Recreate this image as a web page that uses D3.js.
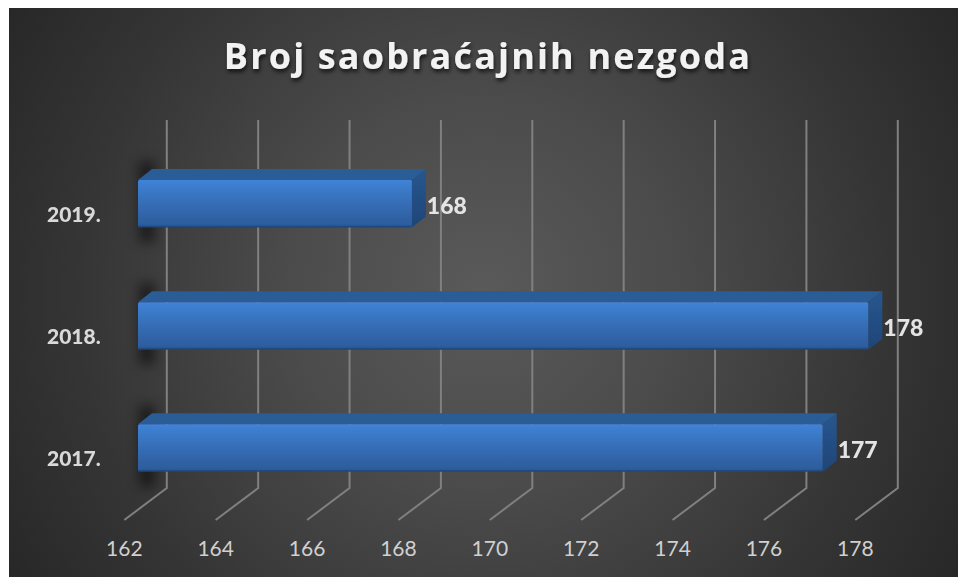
<!DOCTYPE html>
<html><head><meta charset="utf-8">
<script src="https://cdn.jsdelivr.net/npm/d3@7"></script>
<style>html,body{margin:0;padding:0;background:#fff;overflow:hidden}svg{display:block}</style>
</head><body><svg id="c" width="958" height="577"></svg>
<script>
const categories = ["2017.", "2018.", "2019."];
const values = [177, 178, 168];
const tickValues = [162,164,166,168,170,172,174,176,178];
const titleText = "Broj saobraćajnih nezgoda";

const W=958,H=577;
const svg=d3.select("#c");
const defs=svg.append("defs");
const bg=defs.append("radialGradient").attr("id","bg")
  .attr("gradientUnits","userSpaceOnUse").attr("cx",483).attr("cy",292).attr("r",560);
[[0,"#5a5a5a"],[0.35,"#4b4b4b"],[0.72,"#353535"],[1,"#272727"]].forEach(s=>bg.append("stop").attr("offset",s[0]).attr("stop-color",s[1]));
const fg=defs.append("linearGradient").attr("id","front").attr("x1",0).attr("y1",0).attr("x2",0).attr("y2",1);
[[0,"#4285dc"],[0.05,"#3f80d4"],[0.2,"#3b7ac8"],[0.6,"#3469b0"],[0.95,"#2c5c9c"],[0.97,"#234c84"],[1,"#1f4474"]].forEach(s=>fg.append("stop").attr("offset",s[0]).attr("stop-color",s[1]));
const sg=defs.append("linearGradient").attr("id","side").attr("x1",0).attr("y1",0).attr("x2",0).attr("y2",1);
[[0,"#28568f"],[1,"#1e4678"]].forEach(s=>sg.append("stop").attr("offset",s[0]).attr("stop-color",s[1]));
defs.append("filter").attr("id","blur").attr("x","-200%").attr("y","-30%").attr("width","500%").attr("height","160%")
  .append("feGaussianBlur").attr("stdDeviation",6);
const b1=defs.append("filter").attr("id","soft").attr("x","-2%").attr("y","-5%").attr("width","104%").attr("height","110%");
b1.append("feGaussianBlur").attr("stdDeviation",0.7);
const b2=defs.append("filter").attr("id","txt").attr("x","-5%").attr("y","-5%").attr("width","110%").attr("height","110%");
b2.append("feGaussianBlur").attr("stdDeviation",0.35);
const ts=defs.append("filter").attr("id","tshadow").attr("x","-5%").attr("y","-20%").attr("width","110%").attr("height","150%");
ts.append("feDropShadow").attr("dx",1).attr("dy",3).attr("stdDeviation",2).attr("flood-color","#000").attr("flood-opacity",0.7);

svg.append("rect").attr("x",9).attr("y",8).attr("width",W-9).attr("height",H-8).attr("fill","url(#bg)");

// floor front edge carries the ticks; depth offset leads to the back wall
const xFloor=d3.scaleLinear().domain([162,178]).range([124.3,855.3]);
const xBar=d3.scaleLinear().domain([162,178]).range([138,868.3]);
const yBar=d3.scalePoint().domain(categories).range([424.3,180]);
const depth={x:42.5,y:-32};
const barDepth={x:14,y:-11};
const floorY=520, wallTop=120, bh=47.5;

const gGrid=svg.append("g").attr("fill","none").attr("stroke","#808080").attr("stroke-width",2);
gGrid.selectAll("path").data(tickValues).join("path")
  .attr("d",d=>{const x=xFloor(d);return `M${x},${floorY}L${x+depth.x},${floorY+depth.y}L${x+depth.x},${wallTop}`;});

svg.append("g").selectAll("text").data(tickValues).join("text")
  .attr("x",d=>xFloor(d)).attr("y",556).attr("text-anchor","middle")
  .attr("font-family","Lato").attr("font-size",21).attr("fill","#d0d0d0").text(d=>d);

const rows=categories.map((c,i)=>({c,v:values[i]}));

const gS=svg.append("g").attr("opacity",0.5);
gS.selectAll("rect").data(rows).join("rect")
  .attr("x",xBar(162)+1).attr("y",d=>yBar(d.c)-19).attr("width",16)
  .attr("height",bh+34).attr("fill","#000").attr("filter","url(#blur)");

const gB=svg.append("g").selectAll("g").data(rows).join("g").attr("filter","url(#soft)");
const fx=xBar(162);
gB.append("path").attr("fill","#2a5b96").attr("d",d=>{
  const x=xBar(d.v),y=yBar(d.c);
  return `M${fx},${y}L${fx+barDepth.x},${y+barDepth.y}L${x+barDepth.x},${y+barDepth.y}L${x},${y}Z`;});
gB.append("path").attr("fill","url(#side)").attr("d",d=>{
  const x=xBar(d.v),y=yBar(d.c);
  return `M${x},${y}L${x+barDepth.x},${y+barDepth.y}L${x+barDepth.x},${y+barDepth.y+bh}L${x},${y+bh}Z`;});
gB.append("rect").attr("fill","url(#front)").attr("x",fx).attr("y",d=>yBar(d.c))
  .attr("width",d=>xBar(d.v)-fx).attr("height",bh).attr("rx",1.5);

svg.append("g").attr("filter","url(#txt)").selectAll("text").data(rows).join("text")
  .attr("x",47).attr("y",d=>yBar(d.c)+41.7).attr("font-family","Lato").attr("font-weight",900)
  .attr("font-size",21).attr("fill","#d9d9d9").text(d=>d.c);

svg.append("g").attr("filter","url(#txt)").selectAll("text").data(rows).join("text")
  .attr("x",d=>xBar(d.v)+15).attr("y",d=>yBar(d.c)+33.5).attr("font-family","Lato").attr("font-weight",900)
  .attr("font-size",23).attr("fill","#e4e4e4").text(d=>d.v);

svg.append("text").attr("x",488).attr("y",69).attr("text-anchor","middle")
  .attr("font-family","'Open Sans'").attr("font-weight",700).attr("font-size",36)
  .attr("letter-spacing",2.15).attr("fill","#f2f2f2").attr("filter","url(#tshadow)").text(titleText);
</script></body></html>
